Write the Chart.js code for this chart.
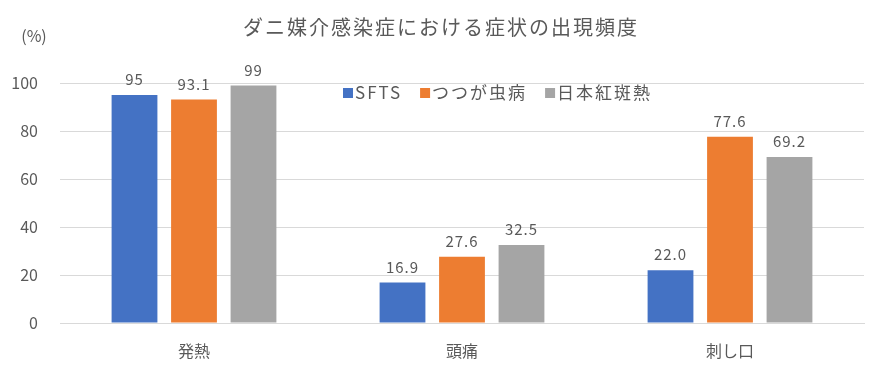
<!DOCTYPE html>
<html>
<head>
<meta charset="utf-8">
<script src="https://cdn.jsdelivr.net/npm/chart.js@4"></script>
<style>
html,body{margin:0;padding:0;background:#fff;}
#wrap{width:881px;height:373px;position:relative;}
</style>
</head>
<body>
<div id="wrap"><canvas id="c" width="881" height="373"></canvas></div>
<script>
const titleText = "ダニ媒介感染症における症状の出現頻度";
const unitText = "(%)";
const categories = ["発熱", "頭痛", "刺し口"];
const seriesNames = ["SFTS", "つつが虫病", "日本紅斑熱"];
const sftsValues = [95, 16.9, 22.0];
const tsutsugaValues = [93.1, 27.6, 77.6];
const kohanValues = [99, 32.5, 69.2];
const sftsLabels = ["95", "16.9", "22.0"];
const tsutsugaLabels = ["93.1", "27.6", "77.6"];
const kohanLabels = ["99", "32.5", "69.2"];
const yTicks = [0, 20, 40, 60, 80, 100];
const colors = ["#4472C4", "#ED7D31", "#A5A5A5"];

const FONT = '"Noto Sans CJK JP", "Noto Sans", sans-serif';
const TEXT = "#595959";

const valueLabels = [sftsLabels, tsutsugaLabels, kohanLabels];

const overlay = {
  id: "overlay",
  afterDatasetsDraw(chart) {
    const ctx = chart.ctx;
    const hasLS = ('letterSpacing' in ctx);
    ctx.save();
    // data labels
    ctx.fillStyle = TEXT;
    ctx.font = "15px " + FONT;
    ctx.textAlign = "center";
    ctx.textBaseline = "bottom";
    if (hasLS) ctx.letterSpacing = "1px";
    chart.data.datasets.forEach((ds, i) => {
      const meta = chart.getDatasetMeta(i);
      meta.data.forEach((bar, j) => {
        ctx.fillText(valueLabels[i][j], bar.x, bar.y - 8);
      });
    });
    // title
    ctx.font = "20px " + FONT;
    ctx.textBaseline = "middle";
    ctx.textAlign = "center";
    if (hasLS) ctx.letterSpacing = "2px";
    ctx.fillText(titleText, 441, 27);
    if (hasLS) ctx.letterSpacing = "0px";
    // unit
    ctx.font = "16px " + FONT;
    ctx.fillText(unitText, 34, 36);
    // legend
    ctx.font = "17px " + FONT;
    ctx.textAlign = "left";
    if (hasLS) ctx.letterSpacing = "2px";
    let x = 343;
    const y = 93;
    chart.data.datasets.forEach((ds, i) => {
      ctx.fillStyle = ds.backgroundColor;
      ctx.fillRect(x, y - 5, 10, 10);
      ctx.fillStyle = TEXT;
      ctx.fillText(ds.label, x + 12, y);
      x += 12 + ctx.measureText(ds.label).width + 18;
    });
    ctx.restore();
  }
};

new Chart(document.getElementById("c"), {
  type: "bar",
  data: {
    labels: categories,
    datasets: [
      { label: seriesNames[0], data: sftsValues, backgroundColor: colors[0] },
      { label: seriesNames[1], data: tsutsugaValues, backgroundColor: colors[1] },
      { label: seriesNames[2], data: kohanValues, backgroundColor: colors[2] }
    ]
  },
  options: {
    responsive: false,
    animation: false,
    devicePixelRatio: 1,
    layout: { padding: { top: 83, right: 17, bottom: 0, left: 0 } },
    datasets: { bar: { categoryPercentage: 0.666, barPercentage: 0.77 } },
    plugins: {
      legend: { display: false },
      title: { display: false },
      tooltip: { enabled: false }
    },
    scales: {
      x: {
        grid: { display: false, drawTicks: false },
        border: { display: true, color: "#D9D9D9", width: 1 },
        ticks: { color: TEXT, font: { family: FONT, size: 16 }, padding: 18 },
        afterFit(s) { s.height = 50; }
      },
      y: {
        min: 0, max: 100,
        afterBuildTicks(s) { s.ticks = yTicks.map(v => ({ value: v })); },
        grid: { color: "#D9D9D9", drawTicks: false, lineWidth: 1 },
        border: { display: false },
        ticks: { color: TEXT, font: { family: FONT, size: 16 }, padding: 22 },
        afterFit(s) { s.width = 60; }
      }
    }
  },
  plugins: [overlay]
});
</script>
</body>
</html>
